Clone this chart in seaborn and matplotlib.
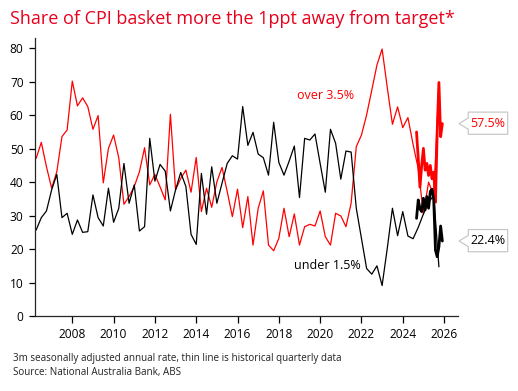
import numpy as np
import pandas as pd
import matplotlib
matplotlib.use("Agg")
import matplotlib.pyplot as plt
import matplotlib.transforms as mtransforms
from matplotlib.patches import Polygon
import seaborn as sns

# ---------------- data ----------------
q_start = 2006.25  # first quarterly observation (decimal year)
over_q = [47.1, 51.9, 44.6, 38.2, 43.1, 53.6, 55.6, 70.2, 62.8, 65.2,
          62.6, 55.8, 59.9, 39.8, 50.1, 54.1, 47.3, 33.4, 35.7, 38.7,
          43.1, 50.3, 39.2, 42.3, 38.6, 34.7, 60.3, 37.7, 41.1, 43.6,
          37.0, 47.4, 31.2, 38.2, 32.5, 40.1, 44.4, 37.2, 29.7, 37.9,
          26.4, 35.7, 21.2, 32.2, 37.4, 21.2, 19.5, 23.2, 32.2, 23.7,
          30.5, 21.2, 26.7, 27.4, 26.9, 31.4, 23.7, 21.2, 30.7, 29.9,
          26.7, 33.7, 50.6, 54.1, 60.1, 67.5, 75.0, 79.8, 68.3, 57.3,
          62.5, 56.3, 59.3, 51.3, 44.0, 30.5, 40.0, 36.0, 69.5]
under_q = [25.7, 29.4, 31.4, 37.7, 42.3, 29.4, 30.7, 24.4, 28.7, 25.0,
           25.2, 36.2, 29.4, 26.9, 38.2, 28.0, 32.2, 45.6, 33.7, 39.2,
           25.4, 26.7, 53.1, 40.3, 45.3, 43.3, 31.4, 37.7, 42.9, 38.7,
           24.4, 21.4, 42.6, 30.4, 44.6, 33.7, 39.7, 45.6, 47.9, 46.9,
           62.6, 51.0, 54.9, 48.4, 47.3, 42.1, 57.9, 45.9, 42.1, 46.3,
           50.8, 35.4, 53.1, 52.6, 54.4, 45.6, 37.0, 55.8, 51.6, 40.9,
           49.3, 49.0, 32.2, 23.2, 14.2, 12.5, 15.0, 9.1, 20.2, 32.2,
           24.0, 31.2, 23.9, 23.1, 26.5, 30.5, 34.0, 36.0, 14.7]

m_start = 2024 + 8 / 12  # first monthly observation (Sep 2024)
over_m = [55.0, 47.0, 38.5, 45.0, 50.1, 43.6, 45.6, 42.0, 45.0, 41.0,
          43.0, 34.0, 55.0, 69.8, 53.6, 57.5]
under_m = [29.2, 34.7, 32.0, 31.2, 35.2, 31.7, 35.7, 32.2, 37.2, 37.9,
           34.7, 19.7, 17.7, 20.7, 26.9, 22.4]

year_ticks = [2008, 2010, 2012, 2014, 2016, 2018, 2020, 2022, 2024, 2026]
y_ticks = [0, 10, 20, 30, 40, 50, 60, 70, 80]

title = "Share of CPI basket more the 1ppt away from target*"
note1 = "3m seasonally adjusted annual rate, thin line is historical quarterly data"
note2 = "Source: National Australia Bank, ABS"

RED = "#ff0000"
BLACK = "#000000"

qdf = pd.DataFrame({
    "date": q_start + 0.25 * np.arange(len(over_q)),
    "over": over_q, "under": under_q})
mdf = pd.DataFrame({
    "date": m_start + np.arange(len(over_m)) / 12.0,
    "over": over_m, "under": under_m})

# ---------------- style ----------------
sns.set_theme(style="ticks")
plt.rcParams["font.family"] = ["Open Sans", "DejaVu Sans"]
plt.rcParams["axes.linewidth"] = 0.9

W, H = 518, 391
fig = plt.figure(figsize=(W / 100, H / 100), dpi=100)
ax = fig.add_axes([34.7 / W, 1 - 316 / H, (457.7 - 34.7) / W, (316 - 38.3) / H])

sns.lineplot(data=qdf, x="date", y="over", ax=ax, color=RED, linewidth=0.9)
sns.lineplot(data=qdf, x="date", y="under", ax=ax, color=BLACK, linewidth=0.9)
sns.lineplot(data=mdf, x="date", y="over", ax=ax, color=RED, linewidth=2.0)
sns.lineplot(data=mdf, x="date", y="under", ax=ax, color=BLACK, linewidth=2.0)

ax.set_xlim(2006.18, 2026.66)
ax.set_ylim(0, 83)
ax.set_xticks(year_ticks)
ax.set_xticklabels([str(y) for y in year_ticks])
ax.set_yticks(y_ticks)
ax.set_xlabel("")
ax.set_ylabel("")
ax.grid(False)
for s in ["top", "right"]:
    ax.spines[s].set_visible(False)
ax.tick_params(axis="x", direction="out", length=5, width=0.9, pad=4,
               labelsize=8.6, colors=BLACK)
ax.tick_params(axis="y", direction="out", length=4, width=0.9, pad=4,
               labelsize=8.6, colors=BLACK)

# series annotations
ax.text(2018.87, 65.8, "over 3.5%", color=RED, fontsize=9, ha="left", va="center")
ax.text(2018.73, 15.2, "under 1.5%", color=BLACK, fontsize=9, ha="left", va="center")

# end-value tags
blend = mtransforms.blended_transform_factory(ax.transAxes, ax.transData)
tag_px = [(0, 0), (9.3, 5.6), (9.3, 11.5), (48.7, 11.5), (48.7, -10.7),
          (9.3, -10.7), (9.3, -5.6)]
for val, col in [(over_m[-1], RED), (under_m[-1], BLACK)]:
    tr = mtransforms.Affine2D() + mtransforms.ScaledTranslation(1.003, val, blend)
    poly = Polygon(tag_px, closed=True, facecolor="white", edgecolor="#c8c8c8",
                   linewidth=0.9, transform=tr, clip_on=False, zorder=5)
    ax.add_patch(poly)
    ttr = mtransforms.Affine2D().translate(29, 0.5) + mtransforms.ScaledTranslation(1.003, val, blend)
    ax.text(0, 0, f"{val:.1f}%", color=col, fontsize=9, ha="center", va="center",
            transform=ttr, zorder=6, clip_on=False)

fig.text(10 / W, 1 - 24.3 / H, title, color="#e8001c", fontsize=12.95,
         ha="left", va="baseline")
fig.text(13 / W, 1 - 361.5 / H, note1, color="#222222", fontsize=7.1,
         ha="left", va="baseline")
fig.text(13 / W, 1 - 375.5 / H, note2, color="#222222", fontsize=7.1,
         ha="left", va="baseline")

fig.savefig("out.png", dpi=100)
